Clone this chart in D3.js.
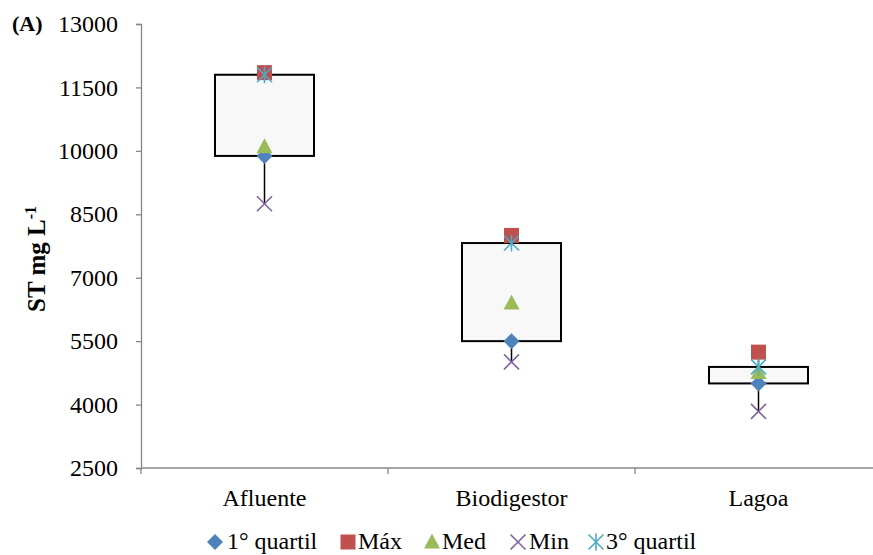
<!DOCTYPE html>
<html>
<head>
<meta charset="utf-8">
<script src="https://cdn.jsdelivr.net/npm/d3@7"></script>
<style>
  html, body { margin: 0; padding: 0; background: #fff; }
  svg { display: block; }
  text { font-family: "Liberation Serif", "Times New Roman", serif; }
</style>
</head>
<body>
<script>
const categories = ["Afluente", "Biodigestor", "Lagoa"];
const q1Values  = [9880, 5500, 4500];
const maxValues = [11850, 8000, 5240];
const medValues = [10100, 6400, 4760];
const minValues = [8750, 5010, 3840];
const q3Values  = [11800, 7820, 4890];
const yTicks = [2500, 4000, 5500, 7000, 8500, 10000, 11500, 13000];

(function () {
const W = 873, H = 555;
const FS = 24;
const svg = d3.select("body").append("svg").attr("width", W).attr("height", H);

const mLeft = 141, mTop = 24, plotH = 444, band = 247;
const x = d3.scaleBand().domain(categories).range([mLeft, mLeft + band * 3]).paddingInner(0).paddingOuter(0);
const y = d3.scaleLinear().domain([2500, 13000]).range([mTop + plotH, mTop]);

const axisColor = "#868686";

// Y axis
const yAxis = svg.append("g").attr("transform", `translate(${mLeft},0)`)
  .call(d3.axisLeft(y).tickValues(yTicks).tickSize(5).tickPadding(18).tickFormat(d3.format("d")));
yAxis.select(".domain").attr("stroke", axisColor).attr("stroke-width", 1.3);
yAxis.selectAll(".tick line").attr("stroke", axisColor).attr("stroke-width", 1.3);
yAxis.selectAll(".tick text").attr("font-size", FS).attr("fill", "#000")
  .attr("font-family", "'Liberation Serif', serif");

// X axis
const xAxisG = svg.append("g").attr("transform", `translate(0,${mTop + plotH})`);
xAxisG.append("line").attr("x1", mLeft).attr("x2", mLeft + band * 3)
  .attr("stroke", axisColor).attr("stroke-width", 1.6);
const boundaries = d3.range(categories.length + 1).map(i => mLeft + band * i);
xAxisG.selectAll("line.tk").data(boundaries).enter().append("line")
  .attr("class", "tk").attr("x1", d => d).attr("x2", d => d).attr("y1", 0).attr("y2", 6)
  .attr("stroke", axisColor).attr("stroke-width", 1.3);
xAxisG.selectAll("text").data(categories).enter().append("text")
  .attr("x", d => x(d) + x.bandwidth() / 2).attr("y", 38)
  .attr("text-anchor", "middle").attr("font-size", FS).text(d => d);

const cx = d => x(d) + x.bandwidth() / 2;

// Whiskers (min-max lines)
svg.selectAll("line.whisk").data(categories).enter().append("line")
  .attr("class", "whisk")
  .attr("x1", cx).attr("x2", cx)
  .attr("y1", (d, i) => y(minValues[i])).attr("y2", (d, i) => y(maxValues[i]))
  .attr("stroke", "#000").attr("stroke-width", 1.5);

// Boxes
const boxW = 99;
svg.selectAll("rect.box").data(categories).enter().append("rect")
  .attr("class", "box")
  .attr("x", d => cx(d) - boxW / 2)
  .attr("width", boxW)
  .attr("y", (d, i) => y(q3Values[i]))
  .attr("height", (d, i) => y(q1Values[i]) - y(q3Values[i]))
  .attr("fill", "#f8f8f8").attr("stroke", "#000").attr("stroke-width", 2);

const series = [
  { name: "1° quartil", values: q1Values, color: "#4f81bd", type: "diamond" },
  { name: "Máx", values: maxValues, color: "#c0504d", type: "square" },
  { name: "Med", values: medValues, color: "#9bbb59", type: "triangle" },
  { name: "Min", values: minValues, color: "#8064a2", type: "x" },
  { name: "3° quartil", values: q3Values, color: "#4bacc6", type: "star" }
];

function drawMarker(g, type, color, px, py) {
  const s = 8;
  if (type === "diamond") {
    g.append("path").attr("d", `M${px},${py - s}L${px + s},${py}L${px},${py + s}L${px - s},${py}Z`).attr("fill", color);
  } else if (type === "square") {
    g.append("rect").attr("x", px - 7.5).attr("y", py - 7.5).attr("width", 15).attr("height", 15).attr("fill", color);
  } else if (type === "triangle") {
    g.append("path").attr("d", `M${px},${py - 8.5}L${px + 8},${py + 6.5}L${px - 8},${py + 6.5}Z`).attr("fill", color);
  } else if (type === "x") {
    const r = 7.5;
    g.append("path").attr("d", `M${px - r},${py - r}L${px + r},${py + r}M${px - r},${py + r}L${px + r},${py - r}`)
      .attr("stroke", color).attr("stroke-width", 1.6).attr("fill", "none");
  } else if (type === "star") {
    const r = 7.5;
    g.append("path").attr("d",
      `M${px - r},${py - r}L${px + r},${py + r}M${px - r},${py + r}L${px + r},${py - r}M${px},${py - r - 1}L${px},${py + r + 1}`)
      .attr("stroke", color).attr("stroke-width", 1.6).attr("fill", "none");
  }
}

series.forEach(s => {
  const g = svg.append("g");
  categories.forEach((c, i) => drawMarker(g, s.type, s.color, cx(c), y(s.values[i])));
});

// Legend
const legendItems = [
  { mx: 215, tx: 227 },
  { mx: 348, tx: 358 },
  { mx: 432, tx: 442 },
  { mx: 518, tx: 529 },
  { mx: 596, tx: 606 }
];
const ly = 542;
series.forEach((s, i) => {
  const g = svg.append("g");
  drawMarker(g, s.type, s.color, legendItems[i].mx, ly);
  g.append("text").attr("x", legendItems[i].tx).attr("y", ly + 7)
    .attr("font-size", FS).text(s.name);
});

// Y axis title
const yt = svg.append("text")
  .attr("transform", "translate(45,259) rotate(-90)")
  .attr("text-anchor", "middle").attr("font-size", 25).attr("font-weight", "bold");
yt.append("tspan").text("ST mg L");
yt.append("tspan").attr("dy", -9).attr("font-size", 16).text("-1");

// Panel label
svg.append("text").attr("x", 12).attr("y", 31).attr("font-size", 22).attr("font-weight", "bold").text("(A)");
})();
</script>
</body>
</html>
